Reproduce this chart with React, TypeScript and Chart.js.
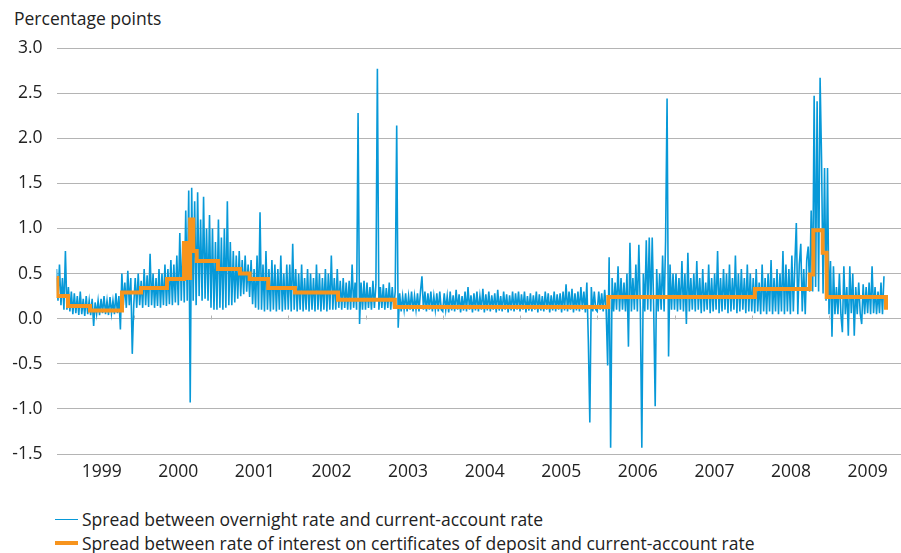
import React, { useEffect, useLayoutEffect, useRef } from 'react';
import { Chart, registerables } from 'chart.js';

Chart.register(...registerables);

// ---------- data ----------
const yearLabels = ['1999', '2000', '2001', '2002', '2003', '2004', '2005', '2006', '2007', '2008', '2009'];
const yearBoundaries = [2000, 2001, 2002, 2003, 2004, 2005, 2006, 2007, 2008, 2009];
const yTickValues = [-1.5, -1.0, -0.5, 0.0, 0.5, 1.0, 1.5, 2.0, 2.5, 3.0];
const xMin = 1999.0;
const xMax = 2009.932;

// weekly readings of the overnight spread (percentage points)
const blue1999 = [0.55,0.2,0.6,0.15,0.45,0.1,0.75,0.1,0.35,0.08,
  0.3,0.05,0.28,0.06,0.25,0.04,0.3,0.05,0.22,0.03,
  0.25,0.05,0.2,0.04,0.22,-0.08,0.18,0.05,0.2,0.04,
  0.22,0.06,0.25,0.05,0.2,0.04,0.24,0.06,0.2,0.05,
  0.28,0.06,0.25,-0.12,0.5,0.15,0.4,0.12,0.53,0.15,
  0.45,-0.39];
const blue2000 = [0.15,0.45,0.12,0.5,0.15,0.42,0.12,0.55,0.15,0.48,
  0.13,0.72,0.15,0.5,0.12,0.45,0.14,0.55,0.12,0.5,
  0.15,0.6,0.14,0.55,0.16,0.65,0.15,0.6,0.18,0.7,
  0.15,0.95,0.2,0.85,0.18,1.2,0.2,1.42,-0.93,1.45,
  0.2,1.3,0.15,1.4,0.25,1.1,0.2,1.35,0.22,1.0,
  0.2,1.15];
const blue2001 = [0.12,1.0,0.1,0.85,0.1,1.1,0.12,0.9,0.1,1.0,
  0.12,1.3,0.15,0.85,0.15,0.75,0.18,0.7,0.22,0.75,
  0.25,0.65,0.27,0.7,0.3,0.6,0.24,0.65,0.16,0.55,
  0.12,0.7,0.1,1.18,0.1,0.6,0.08,0.75,0.1,0.55,
  0.08,0.65,0.1,0.6,0.08,0.55,0.1,0.7,0.08,0.5,
  0.1,0.6];
const blue2002 = [0.1,0.6,0.08,0.83,0.1,0.55,0.08,0.5,0.1,0.6,
  0.08,0.45,0.1,0.55,0.08,0.5,0.1,0.45,0.08,0.6,
  0.1,0.5,0.08,0.45,0.1,0.55,0.08,0.5,0.1,0.7,
  0.1,0.45,0.1,0.55,0.12,0.42,0.1,0.45,0.12,0.4,
  0.1,0.42,0.1,0.6,0.12,0.4,0.1,2.28,-0.06,0.4,
  0.1,0.42];
const blue2003 = [0.1,0.4,0.12,0.35,0.1,0.42,0.12,0.38,2.77,0.1,
  0.35,0.12,0.38,0.1,0.34,0.12,0.4,0.1,0.35,0.12,
  0.3,2.14,-0.1,0.28,0.08,0.25,0.1,0.28,0.08,0.25,
  0.1,0.3,0.08,0.25,0.1,0.28,0.08,0.3,0.47,0.1,
  0.3,0.08,0.28,0.1,0.3,0.08,0.25,0.1,0.28,0.08,
  0.3,0.1];
const blue2004 = [0.08,0.28,0.1,0.25,0.07,0.3,0.09,0.26,0.08,0.32,
  0.1,0.27,0.07,0.25,0.09,0.3,0.08,0.35,0.1,0.26,
  0.07,0.28,0.09,0.3,0.08,0.25,0.1,0.33,0.07,0.27,
  0.09,0.3,0.08,0.26,0.1,0.28,0.07,0.32,0.09,0.25,
  0.08,0.3,0.1,0.27,0.07,0.26,0.09,0.3,0.08,0.28,
  0.1,0.3];
const blue2005 = [0.08,0.27,0.1,0.3,0.07,0.25,0.09,0.28,0.08,0.26,
  0.1,0.3,0.07,0.27,0.09,0.25,0.08,0.3,0.1,0.28,
  0.07,0.26,0.09,0.3,0.08,0.27,0.1,0.28,0.07,0.3,
  0.09,0.38,0.08,0.3,0.1,0.33,0.07,0.28,0.09,0.3,
  0.08,0.35,0.1,0.3,0.07,0.4,-0.25,-1.15,0.35,0.08,
  0.3,0.1];
const blue2006 = [0.08,0.3,0.1,0.28,0.08,0.32,0.1,-0.52,0.68,-1.43,
  0.45,0.08,0.4,0.1,0.58,0.08,0.45,0.1,0.4,0.08,
  0.5,-0.31,0.84,0.08,0.45,0.1,0.6,0.08,0.82,0.1,
  -1.43,0.5,0.08,0.87,0.1,0.9,0.08,0.9,0.1,-0.97,
  0.55,0.08,0.5,0.1,0.7,0.08,0.86,2.44,-0.42,0.6,
  0.1,0.5];
const blue2007 = [0.1,0.5,0.08,0.45,0.1,0.64,0.08,0.5,-0.06,0.73,
  0.08,0.45,0.1,0.5,0.08,0.64,0.1,0.45,0.06,0.55,
  0.08,0.4,0.1,0.6,0.06,0.45,0.08,0.5,0.1,0.75,
  0.06,0.45,0.08,0.55,0.1,0.5,0.06,0.6,0.08,0.45,
  0.1,0.7,0.06,0.5,0.08,0.55,0.1,0.45,0.06,0.6,
  0.08,0.5];
const blue2008 = [0.08,0.45,0.06,0.55,0.08,0.4,0.05,0.6,0.08,0.45,
  0.05,0.5,0.08,0.65,0.05,0.45,0.08,0.55,0.05,0.5,
  0.08,0.75,0.05,0.6,0.08,0.55,0.05,0.7,0.08,0.6,
  1.06,0.05,0.6,0.83,0.08,0.55,0.05,0.65,0.8,0.3,
  1.2,0.3,2.47,0.35,2.41,0.3,2.67,1.75,0.28,1.67,
  0.2,1.67];
const blue2009 = [0.05,0.64,-0.2,0.58,0.05,0.35,0.05,0.5,0.05,-0.15,
  0.58,0.05,0.35,-0.19,0.58,0.06,0.5,-0.19,0.35,0.05,
  0.4,0.06,-0.06,0.38,0.05,0.35,0.06,0.4,0.05,0.58,
  0.06,0.35,0.05,0.3,0.06,0.4,0.05,0.47];

// certificate-of-deposit spread: dates where the level changes, and the new level
const cdDates = [1999.0, 1999.01, 1999.149, 1999.434, 1999.848, 2000.094, 2000.43, 2000.65, 2000.69, 2000.73,
  2000.77, 2000.815, 2001.09, 2001.375, 2001.5, 2001.74, 2002.087, 2002.644, 2003.38, 2006.143,
  2008.04, 2008.752, 2008.797, 2008.918, 2008.97, 2009.72, 2009.738];
const cdLevels = [0.45, 0.25, 0.14, 0.09, 0.29, 0.34, 0.44, 0.84, 0.45, 1.1,
  0.75, 0.64, 0.55, 0.5, 0.44, 0.34, 0.29, 0.21, 0.13, 0.24,
  0.33, 0.49, 0.98, 0.73, 0.24, 0.24, 0.1];

const overnightLabel = 'Spread between overnight rate and current-account rate';
const cdLabel = 'Spread between rate of interest on certificates of deposit and current-account rate';

// ---------- styles ----------
const BLUE = '#0799d8';
const ORANGE = '#f7941d';
const GRID = '#b4b4b4';
const TEXT = '#222222';
const FONT = '"Open Sans", "Noto Sans", sans-serif';
const FONT_SIZE = 17.5;

const weeklyYears: [number, number[]][] = [
  [1999, blue1999], [2000, blue2000], [2001, blue2001], [2002, blue2002], [2003, blue2003],
  [2004, blue2004], [2005, blue2005], [2006, blue2006], [2007, blue2007], [2008, blue2008], [2009, blue2009],
];

function overnightPoints() {
  const pts: { x: number; y: number }[] = [];
  weeklyYears.forEach(([yr, vals]) => {
    vals.forEach((v, i) => pts.push({ x: yr + i / 52, y: v }));
  });
  return pts;
}

const yearTickPlugin = {
  id: 'yearTicks',
  beforeDatasetsDraw(chart: any) {
    const { ctx, scales } = chart;
    const x = scales.x;
    const y = scales.y;
    const y0 = Math.round(y.getPixelForValue(0)) + 0.5;
    ctx.save();
    ctx.strokeStyle = GRID;
    ctx.lineWidth = 1;
    yearBoundaries.forEach((yr) => {
      const px = Math.round(x.getPixelForValue(yr)) + 0.5;
      ctx.beginPath();
      ctx.moveTo(px, y0);
      ctx.lineTo(px, y0 - 4);
      ctx.stroke();
    });
    ctx.restore();
  },
};

export default function App() {
  const ref = useRef<HTMLCanvasElement | null>(null);

  useLayoutEffect(() => {
    document.body.style.margin = '0';
    document.body.style.overflow = 'hidden';
  }, []);

  useEffect(() => {
    if (!ref.current) return;
    const chart = new Chart(ref.current, {
      type: 'line',
      data: {
        datasets: [
          {
            label: cdLabel,
            data: cdDates.map((d, i) => ({ x: d, y: cdLevels[i] })),
            borderColor: ORANGE,
            borderWidth: 4,
            stepped: true,
            pointRadius: 0,
            borderJoinStyle: 'miter',
            order: 0,
            xAxisID: 'x',
            yAxisID: 'y',
          },
          {
            label: overnightLabel,
            data: overnightPoints(),
            borderColor: BLUE,
            borderWidth: 1.6,
            pointRadius: 0,
            tension: 0,
            order: 1,
            xAxisID: 'x',
            yAxisID: 'y',
          },
        ],
      },
      options: {
        animation: false,
        responsive: false,
        parsing: false as any,
        normalized: true,
        layout: { padding: { top: 48, left: 0, right: 0, bottom: 0 } },
        plugins: {
          legend: { display: false },
          tooltip: { enabled: false },
          title: { display: false },
        },
        scales: {
          x: {
            type: 'linear',
            display: false,
            min: xMin,
            max: xMax,
          },
          xLabels: {
            type: 'linear',
            axis: 'x',
            position: 'bottom',
            min: xMin,
            max: xMax,
            grid: { display: false },
            border: { display: false },
            afterBuildTicks: (scale: any) => {
              scale.ticks = yearLabels.map((l) => {
                const yr = Number(l);
                return { value: yr + 0.5 + (2009 - yr) * 0.0085 };
              });
            },
            afterFit: (scale: any) => {
              scale.height = 36;
            },
            ticks: {
              autoSkip: false,
              maxRotation: 0,
              padding: 0,
              color: TEXT,
              font: { family: FONT, size: FONT_SIZE },
              callback: (_v: any, i: number) => yearLabels[i],
            },
          } as any,
          y: {
            type: 'linear',
            min: -1.5,
            max: 3.0,
            afterBuildTicks: (scale: any) => {
              scale.ticks = yTickValues.map((v) => ({ value: v }));
            },
            afterFit: (scale: any) => {
              scale.width = 56.5;
            },
            border: { display: false },
            grid: { color: GRID, lineWidth: 1, drawTicks: false },
            ticks: {
              padding: 14,
              color: TEXT,
              font: { family: FONT, size: FONT_SIZE },
              callback: (v: any) => Number(v).toFixed(1),
            },
          },
        },
      },
      plugins: [yearTickPlugin],
    } as any);
    return () => chart.destroy();
  }, []);

  const textStyle: React.CSSProperties = { fontFamily: FONT, fontSize: FONT_SIZE, color: TEXT, whiteSpace: 'nowrap' };

  return (
    <div style={{ position: 'relative', width: 901, height: 553, overflow: 'hidden', background: '#fff' }}>
      <div style={{ ...textStyle, position: 'absolute', left: 14, top: 6, lineHeight: '24px' }}>Percentage points</div>
      <canvas ref={ref} width={901} height={490} style={{ position: 'absolute', left: 0, top: 0, width: 901, height: 490 }} />
      <div style={{ position: 'absolute', left: 55, top: 507 }}>
        <div style={{ display: 'flex', alignItems: 'center', height: 24 }}>
          <span style={{ display: 'inline-block', width: 23, height: 0, borderTop: `1.5px solid ${BLUE}`, marginRight: 4 }} />
          <span style={textStyle}>{overnightLabel}</span>
        </div>
        <div style={{ display: 'flex', alignItems: 'center', height: 23 }}>
          <span style={{ display: 'inline-block', width: 23, height: 0, borderTop: `4px solid ${ORANGE}`, marginRight: 4 }} />
          <span style={textStyle}>{cdLabel}</span>
        </div>
      </div>
    </div>
  );
}
